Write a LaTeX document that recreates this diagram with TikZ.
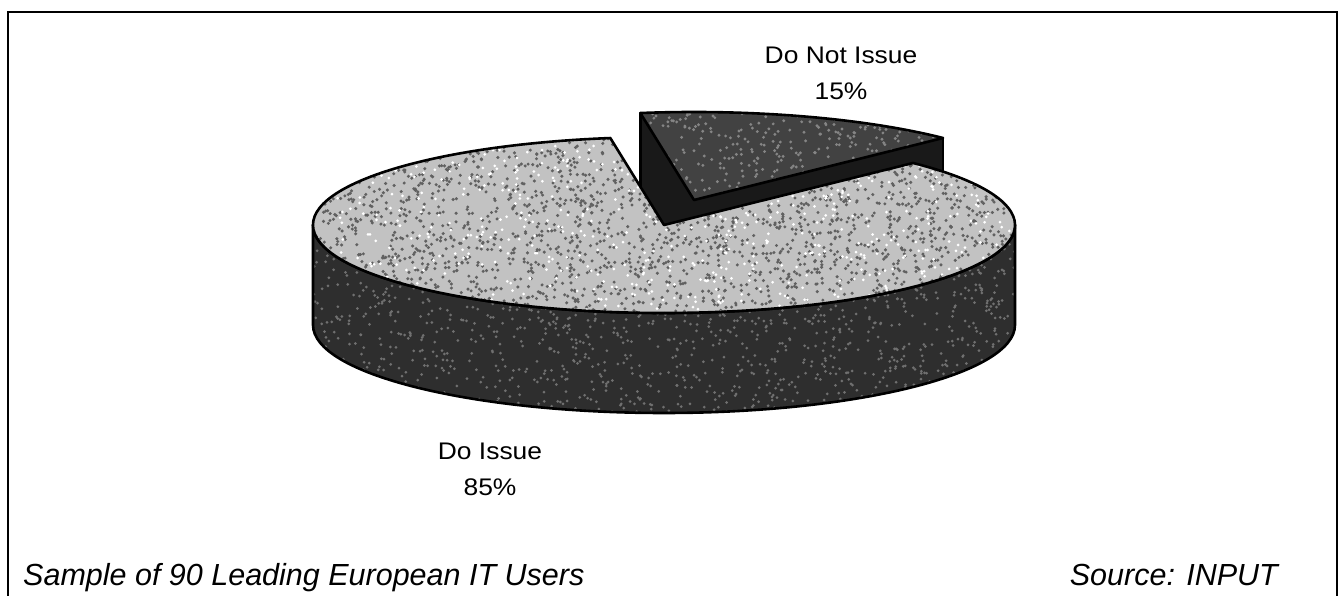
\documentclass[tikz,border=0pt]{standalone}
\usepackage{fontspec}
\setmainfont{Liberation Sans}
\usetikzlibrary{calc}

\definecolor{topface}{gray}{0.76}
\definecolor{topdot}{gray}{0.38}
\definecolor{sideface}{gray}{0.18}
\definecolor{sidedot}{gray}{0.44}
\definecolor{smalltop}{gray}{0.26}
\definecolor{smalldot}{gray}{0.52}
\definecolor{cutface}{gray}{0.10}

% random stipple: colour, count, x-range, y-range, dot radius
\newcommand\grain[7]{%
  \foreach \k in {1,...,#2}{%
    \pgfmathsetmacro\gx{#3+rnd*(#4-#3)}%
    \pgfmathsetmacro\gy{#5+rnd*(#6-#5)}%
    \fill[#1] (\gx,\gy) circle[radius=#7];
  }}

\tikzset{
  edge/.style={draw=black, line width=2.6pt, line join=round},
  lbl/.style={inner sep=0pt, font=\fontsize{24}{28}\selectfont},
  foot/.style={inner sep=0pt, font=\fontsize{30.5}{36}\selectfont\itshape},
}

\begin{document}
\begin{tikzpicture}[x=1pt, y=1pt]
\useasboundingbox (0,0) rectangle (1343,596);
\pgfmathsetseed{4711}

% pie geometry
\coordinate (C) at (664,371);
\coordinate (S) at (694,396);
\coordinate (P1) at ($(C)+(98.8:351 and 88)$);
\coordinate (P2) at ($(C)+(44.8:351 and 88)$);
\coordinate (A)  at ($(S)+(98.8:351 and 88)$);
\coordinate (B)  at ($(S)+(44.8:351 and 88)$);
\coordinate (L)  at ($(C)+(-351,0)$);

% ---- exploded slice (behind) ----
\fill[cutface] (S) -- (A) -- ++(0,-100) -- ($(S)+(0,-100)$) -- cycle;
\fill[cutface] (S) -- (B) -- ++(0,-100) -- ($(S)+(0,-100)$) -- cycle;
\draw[edge] (A) -- ++(0,-100);
\draw[edge] (B) -- ++(0,-100);
\begin{scope}
  \clip (S) -- (A) arc[start angle=98.8, end angle=44.8, x radius=351, y radius=88] -- cycle;
  \fill[smalltop] (630,380) rectangle (960,500);
  \grain{smalldot}{500}{630}{960}{390}{500}{1.6pt}
\end{scope}
\draw[edge] (S) -- (A) arc[start angle=98.8, end angle=44.8, x radius=351, y radius=88] -- cycle;

% ---- main slice: rim ----
\begin{scope}
  \clip (L) arc[start angle=180, end angle=360, x radius=351, y radius=88]
        -- ++(0,-100) arc[start angle=0, end angle=-180, x radius=351, y radius=88] -- cycle;
  \fill[sideface] (300,170) rectangle (1030,380);
  \grain{sidedot}{1700}{300}{1030}{180}{375}{1.5pt}
\end{scope}
\draw[edge] (L) arc[start angle=180, end angle=360, x radius=351, y radius=88]
      -- ++(0,-100) arc[start angle=0, end angle=-180, x radius=351, y radius=88] -- cycle;

% ---- main slice: top face ----
\begin{scope}
  \clip (C) -- (P1) arc[start angle=98.8, end angle=404.8, x radius=351, y radius=88] -- cycle;
  \fill[topface] (300,270) rectangle (1030,470);
  \grain{topdot}{2400}{300}{1030}{280}{462}{1.7pt}
  \grain{white}{800}{300}{1030}{280}{462}{1.5pt}
\end{scope}
\draw[edge] (C) -- (P1) arc[start angle=98.8, end angle=404.8, x radius=351, y radius=88] -- cycle;

% ---- labels ----
\node[lbl] (donot) at (841,541) {\scalebox{1.1}[1]{Do Not Issue}};
\node[lbl] (p15)   at (841,505) {\scalebox{1.1}[1]{15\%}};
\node[lbl] (doiss) at (490,145) {\scalebox{1.1}[1]{Do Issue}};
\node[lbl] (p85)   at (490,109) {\scalebox{1.1}[1]{85\%}};

\node[foot, anchor=base west] (sample) at (23,10) {Sample of 90 Leading European IT Users};
\node[foot, anchor=base east] (source) at (1278,10) {Source: INPUT};

% ---- frame ----
\draw[line width=2pt] (8,-10) -- (8,584) -- (1337,584) -- (1337,-10);
\end{tikzpicture}
\end{document}
